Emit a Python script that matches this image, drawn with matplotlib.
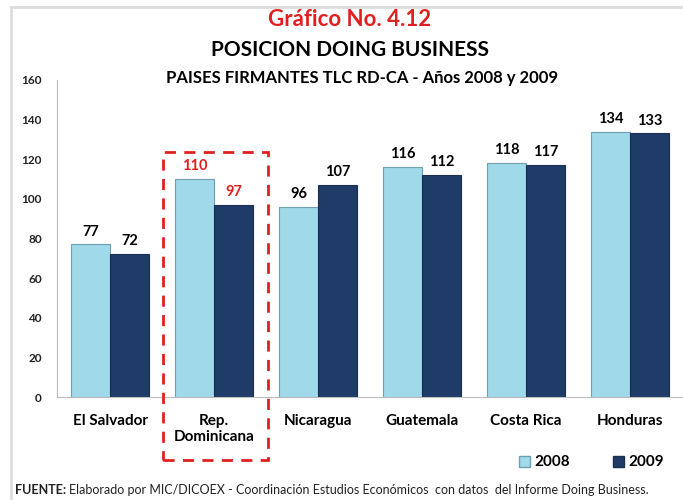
import numpy as np
import matplotlib.pyplot as plt
from matplotlib.patches import Rectangle
from matplotlib.lines import Line2D

plt.rcParams['font.family'] = ['Lato', 'DejaVu Sans']

# Data
countries = ['El Salvador', 'Rep.\nDominicana', 'Nicaragua', 'Guatemala', 'Costa Rica', 'Honduras']
pos_2008 = [77, 110, 96, 116, 118, 134]
pos_2009 = [72, 97, 107, 112, 117, 133]
years = ['2008', '2009']
yticks = [0, 20, 40, 60, 80, 100, 120, 140, 160]

c08 = '#9fd9ea'
c09 = '#1f3b68'

fig = plt.figure(figsize=(6.83, 5), dpi=100)
ax = fig.add_axes([0.0835, 0.206, 0.917, 0.634])

x = np.arange(len(countries))
w = 0.375
ax.bar(x - w / 2, pos_2008, w, color=c08, edgecolor='#6f9fb3', linewidth=0.8)
ax.bar(x + w / 2, pos_2009, w, color=c09, edgecolor='#1a2f52', linewidth=0.8)

# value labels
for i, (v1, v2) in enumerate(zip(pos_2008, pos_2009)):
    col = '#e02020' if i == 1 else 'black'
    ax.text(i - w / 2, v1 + 3, str(v1), ha='center', va='bottom', fontsize=10.5, fontweight='bold', color=col)
    ax.text(i + w / 2, v2 + 3, str(v2), ha='center', va='bottom', fontsize=10.5, fontweight='bold', color=col)

ax.set_xlim(-0.51, 5.51)
ax.set_ylim(0, 160)
ax.set_yticks(yticks)
ax.set_yticklabels([str(t) for t in yticks], fontsize=8.5, fontweight='bold', color='#222222')
ax.set_xticks(x)
ax.set_xticklabels(countries, fontsize=11, fontweight='bold')
ax.tick_params(axis='x', length=0, pad=12)
ax.tick_params(axis='y', length=0, pad=11)
for s in ['top', 'right']:
    ax.spines[s].set_visible(False)
ax.spines['left'].set_color('#bbbbbb')
ax.spines['bottom'].set_color('#bbbbbb')

# titles
fig.text(0.512, 0.962, 'Gráfico No. 4.12', ha='center', va='center', fontsize=16, fontweight='bold', color='#e02020')
fig.text(0.512, 0.899, 'POSICION DOING BUSINESS', ha='center', va='center', fontsize=15, fontweight='bold')
fig.text(0.53, 0.843, 'PAISES FIRMANTES TLC RD-CA - Años 2008 y 2009', ha='center', va='center', fontsize=12, fontweight='bold')

# dashed highlight box around Rep. Dominicana
box = Rectangle((163 / 683, 1 - 460 / 500), 105 / 683, 308 / 500, transform=fig.transFigure,
                fill=False, edgecolor='#e02020', linestyle=(0, (4, 3)), linewidth=2, clip_on=False)
fig.add_artist(box)

# legend
handles = [Rectangle((0, 0), 1, 1, facecolor=c08, edgecolor='#6f9fb3'),
           Rectangle((0, 0), 1, 1, facecolor=c09, edgecolor='#1a2f52')]
fig.legend(handles, years, loc='center', bbox_to_anchor=(0.866, 0.075), ncol=2, frameon=False,
           prop={'weight': 'bold', 'size': 11}, handlelength=0.7, handleheight=0.7,
           handletextpad=0.3, columnspacing=2.8)

# frame lines
fig.add_artist(Line2D([11 / 683, 11 / 683], [0, 1 - 7 / 500], transform=fig.transFigure, color='#dddddd', linewidth=2))
fig.add_artist(Line2D([11 / 683, 1], [1 - 7 / 500, 1 - 7 / 500], transform=fig.transFigure, color='#dddddd', linewidth=2))

# footer
fig.text(0.022, 0.02, 'FUENTE:', ha='left', va='center', fontsize=9, fontweight='bold', color='#222222')
fig.text(0.101, 0.02, 'Elaborado por MIC/DICOEX - Coordinación Estudios Económicos  con datos  del Informe Doing Business.',
         ha='left', va='center', fontsize=9, color='#222222')

fig.savefig('out.png', dpi=100)
